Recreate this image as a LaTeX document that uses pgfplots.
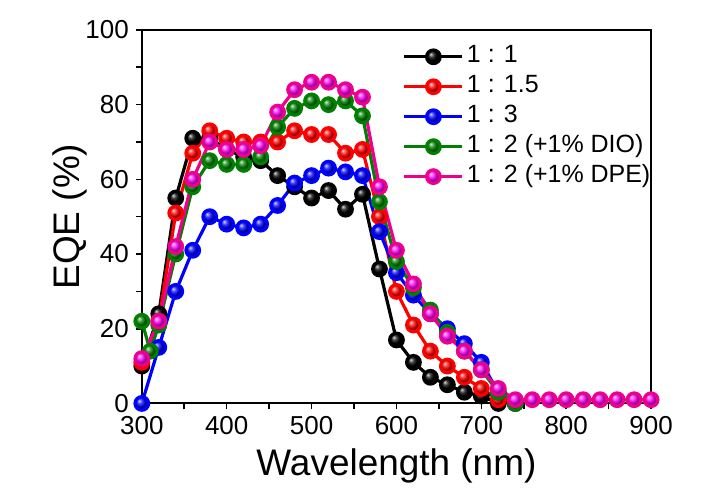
\documentclass[border=0pt]{standalone}
\usepackage{fontspec}
\setmainfont{Liberation Sans}
\usepackage{pgfplots}
\pgfplotsset{compat=1.18}
\definecolor{dgreen}{RGB}{0,128,0}
\begin{document}
\begin{tikzpicture}
\begin{axis}[
scale only axis,
width=255pt,height=187pt,
xmin=300,xmax=900,ymin=0,ymax=100,
xtick={300,400,...,900},minor x tick num=1,
ytick={0,20,...,100},minor y tick num=1,
tick align=outside,tick pos=left,
major tick length=3pt,minor tick length=3pt,
every tick/.style={black,line width=0.8pt},
axis line style={line width=1pt},
/pgf/number format/assume math mode=true,
tick label style={font=\fontsize{13}{13}\selectfont},
xlabel={Wavelength (nm)},ylabel={EQE (\%)},
label style={font=\fontsize{18.5}{18.5}\selectfont},
xlabel style={at={(axis description cs:0.5,-0.192)},anchor=base},
ylabel style={at={(axis description cs:-0.122,0.5)},anchor=base},
legend style={at={(rel axis cs:0.5,0.98)},anchor=north west,draw=none,fill=none,
  font=\fontsize{12.5}{15}\selectfont,row sep=0pt,
  nodes={text height=9pt,text depth=3pt,inner sep=1.5pt}},
legend cell align=left,
legend image code/.code={\draw[mark repeat=2,mark phase=2] plot coordinates {(0pt,0pt)(14.5pt,0pt)(29pt,0pt)};},
ser/.style={line width=1.6pt,mark=ball,mark size=3.4pt,#1,mark options={ball color=#1}},
]
\addplot[ser=black] coordinates {
(300,10)(320,24)(340,55)(360,71)(380,71)(400,68)(420,66)(440,65)(460,61)(480,58)
(500,55)(520,57)(540,52)(560,56)(580,36)(600,17)(620,11)(640,7)(660,5)(680,3)
(700,2)(720,0)
};
\addplot[ser=red] coordinates {
(300,11)(320,22)(340,51)(360,67)(380,73)(400,71)(420,70)(440,70)(460,70)(480,73)
(500,72)(520,72)(540,67)(560,68)(580,50)(600,30)(620,21)(640,14)(660,10)(680,7)
(700,4)(720,1)(740,0)
};
\addplot[ser=blue] coordinates {
(300,0)(320,15)(340,30)(360,41)(380,50)(400,48)(420,47)(440,48)(460,53)(480,59)
(500,61)(520,63)(540,62)(560,61)(580,46)(600,35)(620,29)(640,24)(660,20)(680,16)
(700,11)(720,3)(740,0)
};
\addplot[ser=dgreen] coordinates {
(300,22)(310,14)(320,21)(340,40)(360,58)(380,65)(400,64)(420,64)(440,66)(460,74)
(480,79)(500,81)(520,80)(540,81)(560,77)(580,54)(600,38)(620,31)(640,25)(660,19)
(680,14)(700,9)(720,3)(740,0)
};
\addplot[ser=magenta] coordinates {
(300,12)(320,22)(340,42)(360,60)(380,70)(400,68)(420,68)(440,69)(460,78)(480,84)
(500,86)(520,86)(540,84)(560,82)(580,58)(600,41)(620,32)(640,24)(660,18)(680,14)
(700,9)(720,4)(740,1)(760,1)(780,1)(800,1)(820,1)(840,1)(860,1)(880,1)(900,1)
};
\legend{1 : 1,1 : 1.5,1 : 3,1 : 2 (+1\% DIO),1 : 2 (+1\% DPE)}
\end{axis}
\path (current axis.south west) ++(-71pt,-45.5pt) coordinate (bbA);
\path (current axis.north east) ++(33pt,15pt) coordinate (bbB);
\pgfresetboundingbox
\path[use as bounding box] (bbA) rectangle (bbB);
\end{tikzpicture}
\end{document}
